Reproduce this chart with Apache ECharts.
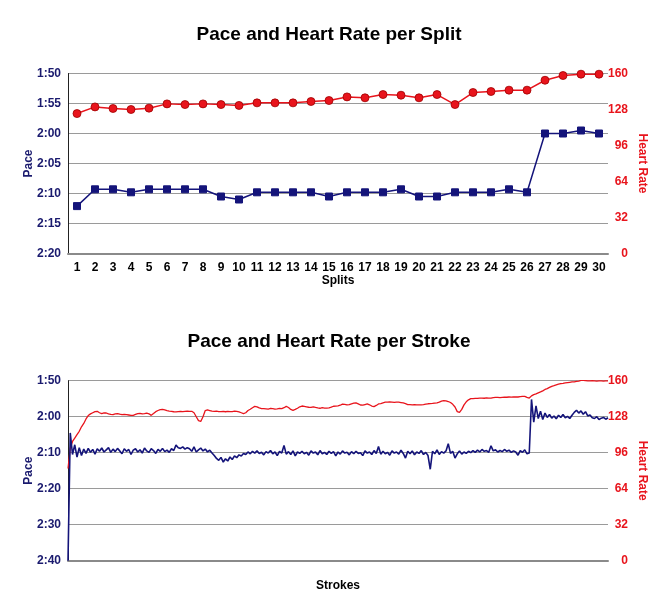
<!DOCTYPE html>
<html>
<head>
<meta charset="utf-8">
<script src="https://cdn.jsdelivr.net/npm/echarts@6/dist/echarts.min.js"></script>
<style>
html,body{margin:0;padding:0;background:#fff;}
#chart{width:658px;height:606px;}
</style>
</head>
<body>
<div id="chart"></div>
<script>
// ---- Data ----
var splitLabels = ['1','2','3','4','5','6','7','8','9','10','11','12','13','14','15','16','17','18','19','20','21','22','23','24','25','26','27','28','29','30'];
// pace in seconds per 500m
var splitPace = [132.1, 129.3, 129.3, 129.8, 129.3, 129.3, 129.3, 129.3, 130.5, 131.0, 129.8, 129.8, 129.8, 129.8, 130.5, 129.8, 129.8, 129.8, 129.3, 130.5, 130.5, 129.8, 129.8, 129.8, 129.3, 129.8, 120.0, 120.0, 119.5, 120.0];
var splitHR = [124.4, 130.3, 128.9, 128, 129.2, 133, 132.4, 133, 132.4, 131.6, 133.9, 133.9, 133.9, 135.1, 136, 139.2, 138.4, 141.3, 140.7, 138.4, 141.3, 132.4, 143.1, 144, 145.2, 145.2, 154, 158.2, 159.4, 159.4];

var strokePace = [
160, 124.5, 130.5, 127.8, 131.2, 128.6, 130.8, 129.0, 130.2, 128.8,
129.9, 129.1, 130.4, 128.9, 129.6, 128.7, 129.8, 129.2, 128.6, 129.9,
129.0, 129.7, 128.8, 129.5, 130.3, 128.9, 129.6, 129.1, 130.5, 129.3,
128.9, 129.8, 129.2, 130.1, 128.7, 129.5, 129.9, 128.9, 129.4, 130.2,
129.1, 129.6, 128.8, 129.7, 129.3, 129.9, 128.9, 129.4, 127.9, 128.6,
128.8, 128.4, 129.0, 128.6, 128.9, 129.6, 128.4, 129.8, 129.2, 128.7,
129.5, 129.0, 129.8, 129.3, 130.1, 130.8, 131.6, 132.1, 131.3, 132.6,
131.7, 132.3, 131.2, 131.9, 130.9, 131.4, 130.6, 130.9, 130.2, 130.5,
129.8, 130.3, 129.6, 130.1, 129.5, 130.2, 129.9, 130.6, 129.7, 130.1,
129.4, 130.3, 129.8, 130.8, 129.6, 130.1, 128.0, 130.4, 129.7, 130.5,
129.5, 130.9, 129.8, 130.2, 129.6, 130.3, 129.9, 130.7, 129.5, 130.1,
129.8, 130.6, 129.4, 130.3, 129.9, 130.5, 129.6, 130.2, 129.7, 130.9,
129.8, 130.4, 129.5, 130.1, 129.9, 130.6, 129.7, 130.3, 129.6, 130.2,
130.0, 130.8, 129.5, 130.1, 129.8, 130.5, 129.4, 130.2, 128.3, 130.4,
129.6, 130.3, 129.9, 130.7, 129.5, 130.1, 129.8, 130.4, 129.3, 130.2,
131.5, 129.6, 130.3, 129.5, 130.6, 129.8, 130.2, 129.4, 130.5, 129.9,
130.8, 134.6, 129.6, 130.3, 129.2, 130.5, 129.7, 130.1, 129.5, 127.5,
130.2, 129.6, 131.5, 130.3, 129.5, 130.4, 129.8, 130.2, 129.6, 130.0,
129.4, 129.9, 129.3, 129.8, 129.1, 129.6, 129.4, 129.9, 128.1, 129.5,
129.2, 129.8, 129.4, 129.7, 129.1, 129.6, 129.3, 129.9, 129.5, 129.8,
130.7, 129.4, 129.9, 129.2, 130.3, 130.1,
115.2, 121.5, 117.0, 120.5, 118.5, 120.8, 119.0, 120.2, 119.4, 120.4,
119.8, 120.6, 119.6, 120.2, 119.4, 120.3, 119.9, 120.5, 119.6, 118.8,
118.2, 119.0, 118.4, 119.3, 118.6, 119.8, 119.5, 120.3, 120.5, 120.0,
120.8, 120.4, 120.2, 120.7, 120.3
];
var strokeHR = [
82, 100, 106, 109, 112, 115, 119, 122, 126, 129,
130.5, 131.5, 132.5, 132.8, 131.5, 130.7, 131.3, 131.3, 130.5, 130,
129.8, 130.5, 130.7, 130.2, 129.8, 130, 129.8, 129.5, 129.2, 129.2,
130, 130.8, 131, 130.5, 130.8, 131.2, 130.6, 129.2, 130.8, 132.5,
133.5, 134.3, 134.5, 134, 133.4, 133, 132.8, 132.4, 132.2, 132.5,
132.8, 132.6, 132.8, 133, 132.8, 132.8, 131.5, 128, 124.5, 123.8,
128, 133.5, 134, 133.5, 133, 132.8, 133, 132.6, 132.5, 132.8,
132.4, 132.8, 132.6, 132.5, 132.9, 132.7, 132.3, 131.5, 130.7, 131.5,
133.5, 134.6, 136, 137.2, 136.8, 135.8, 135.1, 135.2, 135, 134.8,
135.3, 135.1, 134.7, 135, 135.4, 135.1, 136, 137.2, 136.2, 134.5,
133.7, 134.5, 135.5, 136.8, 137.5, 137.2, 136.8, 136.4, 136.3, 136.8,
136.2, 135.8, 135.5, 136, 135.7, 135.6, 135.8, 136.5, 137.3, 137.4,
137.6, 138.2, 139.2, 139, 138.6, 138.8, 139.5, 140, 140.2, 139.4,
138.4, 138.2, 138.8, 139.3, 138.6, 137.5, 137, 138, 139.3, 139.7,
140.3, 140.9, 141, 141.1, 141, 140.8, 141, 140.9, 140.6, 140.2,
139.6, 138.8, 138.7, 138.6, 138.7, 138.6, 138.5, 138.6, 138.7, 139.1,
139.5, 139.6, 139.8, 140.1, 140.3, 141, 141.8, 142.2, 142.1, 141.5,
140.6, 139, 136.6, 132.5, 131.8, 134.5, 138.5, 141.2, 143, 144,
144.1, 144.2, 144.3, 144.6, 144.5, 144.4, 144.7, 144.5, 144.6, 145,
145.1, 145.2, 145, 145.2, 145.4, 145.3, 145.5, 145.4, 145.5, 145.6,
145.5, 145.8, 146, 146.1, 145.2, 144.6, 146.5, 147.6, 148.3, 149.2,
150, 151, 152.2, 153, 154, 155, 155.6, 156.3, 156.9, 157.4,
157.6, 158, 158.3, 158.6, 158.9, 158.9, 159.3, 159.7, 160.2, 160.3,
160.1, 159.9, 159.8, 160, 159.9, 159.7, 159.8, 159.8, 159.7, 159.8, 159.8
];
var strokeLabels = [];
for (var k = 0; k < strokePace.length; k++) strokeLabels.push(String(k + 1));

// ---- Styling ----
var FONT = "'Liberation Sans', Arial, Helvetica, sans-serif";
var NAVY = '#1a1a6e';
var LINEBLUE = '#14147a';
var RED = '#e8141c';
var GRID = '#9a9a9a';

function fmtPace(v) {
  var m = Math.floor(v / 60);
  var s = Math.round(v - m * 60);
  return m + ':' + (s < 10 ? '0' : '') + s;
}

function paceAxis(gridIndex, min, max, interval) {
  return {
    gridIndex: gridIndex, type: 'value', inverse: true, min: min, max: max, interval: interval,
    position: 'left',
    name: 'Pace', nameLocation: 'middle', nameGap: 33, nameMoveOverlap: false,
    nameTextStyle: { color: NAVY, fontFamily: FONT, fontWeight: 'bold', fontSize: 12 },
    axisLine: { show: true, lineStyle: { color: '#222', width: 1 } },
    axisTick: { show: false },
    axisLabel: { color: NAVY, fontFamily: FONT, fontWeight: 'bold', fontSize: 12, margin: 7, formatter: fmtPace },
    splitLine: { show: true, lineStyle: { color: GRID, width: 1 } }
  };
}
function hrAxis(gridIndex) {
  return {
    gridIndex: gridIndex, type: 'value', min: 0, max: 160, interval: 32,
    position: 'right',
    name: 'Heart Rate', nameLocation: 'middle', nameGap: 28, nameRotate: -90, nameMoveOverlap: false,
    nameTextStyle: { color: RED, fontFamily: FONT, fontWeight: 'bold', fontSize: 12 },
    axisLine: { show: false },
    axisTick: { show: false },
    axisLabel: { color: RED, fontFamily: FONT, fontWeight: 'bold', fontSize: 12, margin: 20, align: 'right' },
    splitLine: { show: false }
  };
}

var chart = echarts.init(document.getElementById('chart'), null, { renderer: 'canvas' });
chart.setOption({
  animation: false,
  backgroundColor: '#fff',
  title: [
    { text: 'Pace and Heart Rate per Split', left: 'center', top: 20,
      textStyle: { fontFamily: FONT, fontWeight: 'bold', fontSize: 19, color: '#000' } },
    { text: 'Pace and Heart Rate per Stroke', left: 'center', top: 327,
      textStyle: { fontFamily: FONT, fontWeight: 'bold', fontSize: 19, color: '#000' } }
  ],
  grid: [
    { left: 68, right: 50, top: 73.5, height: 180, outerBoundsMode: 'none' },
    { left: 68, right: 50, top: 380.7, height: 180, outerBoundsMode: 'none' }
  ],
  xAxis: [
    { gridIndex: 0, type: 'category', data: splitLabels, boundaryGap: true,
      name: 'Splits', nameLocation: 'middle', nameGap: 18,
      nameTextStyle: { color: '#000', fontFamily: FONT, fontWeight: 'bold', fontSize: 12 },
      axisLine: { lineStyle: { color: '#8a8a8a', width: 2 } },
      axisTick: { show: false },
      axisLabel: { interval: 0, color: '#000', fontFamily: FONT, fontWeight: 'bold', fontSize: 12, margin: 8 } },
    { gridIndex: 1, type: 'category', data: strokeLabels, boundaryGap: false,
      name: 'Strokes', nameLocation: 'middle', nameGap: 19,
      nameTextStyle: { color: '#000', fontFamily: FONT, fontWeight: 'bold', fontSize: 12 },
      axisLine: { lineStyle: { color: '#8a8a8a', width: 2 } },
      axisTick: { show: false },
      axisLabel: { show: false } }
  ],
  yAxis: [
    paceAxis(0, 110, 140, 5),
    hrAxis(0),
    paceAxis(1, 110, 160, 10),
    hrAxis(1)
  ],
  series: [
    { type: 'line', xAxisIndex: 0, yAxisIndex: 1, data: splitHR,
      symbol: 'circle', symbolSize: 8,
      lineStyle: { color: RED, width: 1.5 },
      itemStyle: { color: RED, borderColor: '#a00000', borderWidth: 0.8 } },
    { type: 'line', xAxisIndex: 0, yAxisIndex: 0, data: splitPace,
      symbol: 'rect', symbolSize: 7,
      lineStyle: { color: LINEBLUE, width: 1.5 },
      itemStyle: { color: LINEBLUE, borderColor: LINEBLUE } },
    { type: 'line', xAxisIndex: 1, yAxisIndex: 3, data: strokeHR,
      showSymbol: false, symbol: 'none',
      lineStyle: { color: RED, width: 1.3 } },
    { type: 'line', xAxisIndex: 1, yAxisIndex: 2, data: strokePace,
      showSymbol: false, symbol: 'none', clip: true,
      lineStyle: { color: LINEBLUE, width: 1.6 } }
  ]
});
</script>
</body>
</html>
